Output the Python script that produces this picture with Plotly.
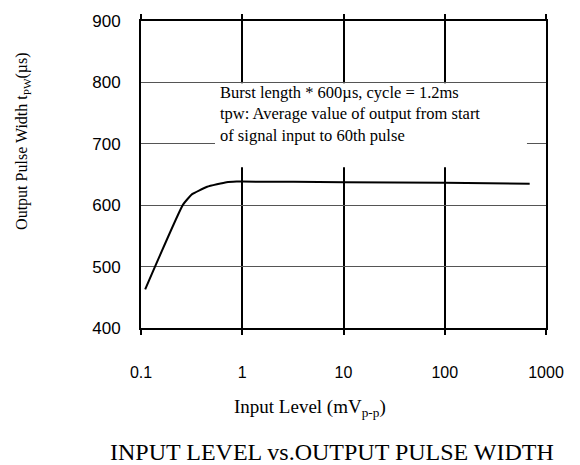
import plotly.graph_objects as go

# Data
input_level = [0.11, 0.26, 0.32, 0.45, 0.70, 0.88, 1.0, 10.0, 100.0, 690.0]
pulse_width = [463, 601, 618, 630, 637.5, 638.5, 638.5, 637.5, 636.5, 635]

x_tickvals = [0.1, 1, 10, 100, 1000]
x_ticktext = ["0.1", "1", "10", "100", "1000"]
y_tickvals = [400, 500, 600, 700, 800, 900]

note_text = ("Burst length * 600µs, cycle = 1.2ms<br>"
             "tpw: Average value of output from start<br>"
             "of signal input to 60th pulse")

serif = "Liberation Serif, Times New Roman, serif"
sans = "Liberation Sans, Arial, sans-serif"

fig = go.Figure()
fig.add_trace(go.Scatter(
    x=input_level, y=pulse_width, mode="lines",
    line=dict(color="black", width=2, shape="spline", smoothing=0.4),
    showlegend=False, hoverinfo="skip",
))

fig.update_layout(
    width=580, height=465,
    margin=dict(l=141, r=34, t=15, b=137),
    paper_bgcolor="white", plot_bgcolor="white",
    xaxis=dict(
        type="log", range=[-1, 3],
        tickvals=x_tickvals, ticktext=x_ticktext,
        showgrid=True, gridcolor="black", gridwidth=2,
        showline=True, linecolor="black", linewidth=2, mirror="ticks",
        ticks="outside", ticklen=5, tickwidth=2, tickcolor="black",
        ticklabelstandoff=24,
        tickfont=dict(family=sans, size=16, color="black"),
        zeroline=False,
    ),
    yaxis=dict(
        range=[400, 900], tickvals=y_tickvals,
        showgrid=True, gridcolor="#555555", gridwidth=1,
        showline=True, linecolor="black", linewidth=2, mirror=True,
        ticks="", ticklabelstandoff=15,
        tickfont=dict(family=sans, size=17, color="black"),
        zeroline=False,
    ),
    shapes=[dict(
        type="rect", xref="paper", yref="y",
        x0=0.1827, x1=0.953, y0=662, y1=798.6,
        fillcolor="white", line=dict(width=0), layer="above",
    )],
    annotations=[
        dict(text=note_text, xref="paper", yref="paper", x=0.1900, y=0.698,
             xanchor="left", yanchor="middle", align="left", showarrow=False,
             font=dict(family=serif, size=16.5, color="black")),
        dict(text="Input Level (mV<sub>p-p</sub>)", xref="paper", yref="paper",
             x=0.417, y=-0.262, xanchor="center", yanchor="middle",
             showarrow=False, font=dict(family=serif, size=19, color="black")),
        dict(text="INPUT LEVEL vs.OUTPUT PULSE WIDTH", xref="paper", yref="paper",
             x=0.471, y=-0.405, xanchor="center", yanchor="middle",
             showarrow=False, font=dict(family=serif, size=24, color="black")),
        dict(text="Output Pulse Width t<sub>PW</sub>(µs)", xref="paper", yref="paper",
             x=-0.291, y=0.61, xanchor="center", yanchor="middle", textangle=-90,
             showarrow=False, font=dict(family=serif, size=16, color="black")),
    ],
)

fig.write_html("out.html", config={"displayModeBar": False},
               post_script="document.body.style.margin='0';")
